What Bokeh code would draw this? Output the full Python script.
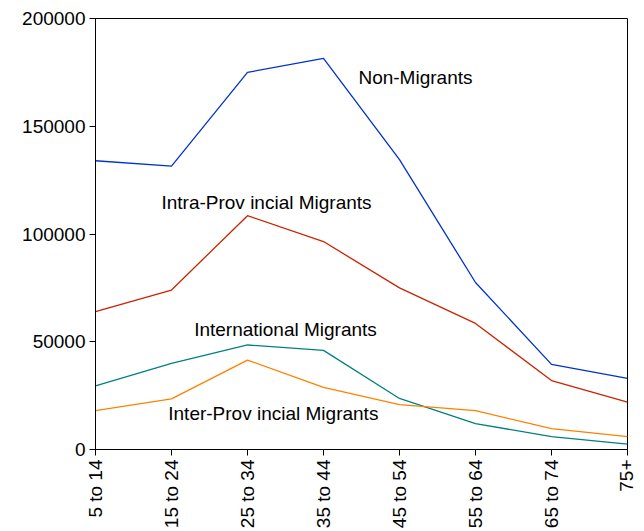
import math
from bokeh.plotting import figure
from bokeh.models import Range1d, FixedTicker, NumeralTickFormatter, Label
from bokeh.embed import file_html
from bokeh.resources import INLINE

age_groups = ["5 to 14", "15 to 24", "25 to 34", "35 to 44", "45 to 54", "55 to 64", "65 to 74", "75+"]
non_migrants = [134000, 131500, 175000, 181500, 134500, 77500, 39500, 33000]
intra_provincial = [64000, 74000, 108500, 96500, 75000, 58500, 32000, 22000]
international = [29500, 40000, 48500, 46000, 23700, 12000, 6000, 2500]
inter_provincial = [18000, 23500, 41500, 28800, 20800, 18000, 9700, 6000]

series_names = ["Non-Migrants", "Intra-Prov incial Migrants", "International Migrants", "Inter-Prov incial Migrants"]
series_values = [non_migrants, intra_provincial, international, inter_provincial]
series_colors = ["#0033cc", "#cc2200", "#008080", "#ff8000"]
label_x = [4.21, 2.25, 2.5, 2.34]
label_y = [172500, 114500, 55700, 16700]

y_ticks = [0, 50000, 100000, 150000, 200000]

FONT = "Liberation Sans"

p = figure(frame_width=532, frame_height=431, output_backend="svg", toolbar_location=None,
           x_range=Range1d(0, len(age_groups) - 1), y_range=Range1d(0, 200000),
           min_border_left=95, min_border_right=9, min_border_top=18, min_border_bottom=60)

xs = list(range(len(age_groups)))
for vals, col in zip(series_values, series_colors):
    p.line(xs, vals, line_color=col, line_width=1.3)

for name, lx, ly in zip(series_names, label_x, label_y):
    p.add_layout(Label(x=lx, y=ly, text=name, text_align="center", text_baseline="middle",
                       text_font=FONT, text_font_size="19px", text_color="black"))

p.xgrid.visible = False
p.ygrid.visible = False
p.outline_line_color = "black"
p.outline_line_width = 1

p.xaxis.ticker = FixedTicker(ticks=xs)
p.xaxis.major_label_overrides = {i: g for i, g in enumerate(age_groups)}
p.xaxis.major_label_orientation = math.pi / 2
p.yaxis.ticker = FixedTicker(ticks=y_ticks)
p.yaxis.formatter = NumeralTickFormatter(format="0")

for ax in (p.xaxis, p.yaxis):
    ax.axis_line_color = "black"
    ax.major_tick_line_color = "black"
    ax.major_tick_out = 6
    ax.major_tick_in = 0
    ax.minor_tick_line_color = None
    ax.major_label_text_font = FONT
    ax.major_label_text_font_size = "19px"
    ax.major_label_text_color = "black"
    ax.major_label_standoff = 4

open("out.html", "w").write(file_html(p, INLINE))
